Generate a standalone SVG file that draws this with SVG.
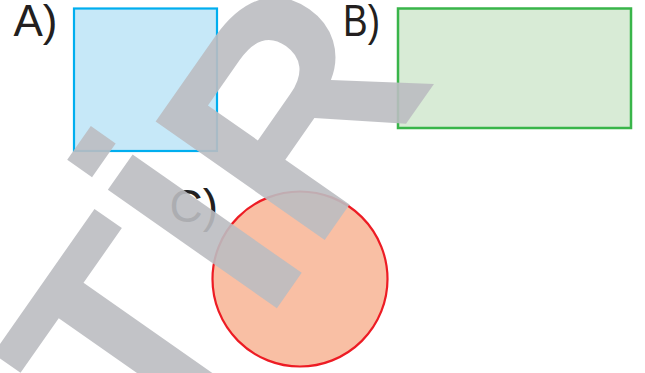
<svg xmlns="http://www.w3.org/2000/svg" width="645" height="373" viewBox="0 0 645 373">
  <style>
    .lbl { font-family: "Liberation Sans", Arial, sans-serif; font-size: 44px; fill: #231f20; }
    .wm { font-family: "Liberation Sans", Arial, sans-serif; font-weight: bold; font-size: 300px; fill: #bbbdc1; fill-opacity: 0.9; }
  </style>
  <rect x="0" y="0" width="645" height="373" fill="#ffffff"/>
  <g id="A">
    <rect x="74" y="8.5" width="143" height="142.5" fill="#c6e8f8" stroke="#00aeef" stroke-width="2.2"/>
    <text class="lbl" x="13.5" y="36">A)</text>
  </g>
  <g id="B">
    <rect x="398" y="8.5" width="233" height="119.5" fill="#d8ebd6" stroke="#39b54a" stroke-width="2.5"/>
    <text class="lbl" transform="translate(343,36) scale(0.84,1)" x="0" y="0">B)</text>
  </g>
  <g id="C">
    <circle cx="300" cy="279" r="87.5" fill="#f9bfa4" stroke="#ed1c24" stroke-width="2.2"/>
    <text class="lbl" x="169.5" y="222" style="font-size:46px">C)</text>
  </g>
  <g id="connectors"/>
  <g id="watermark">
    <text class="wm" transform="translate(160.3,474.8) rotate(-55)" x="0" y="0">TİR</text>
  </g>
</svg>
